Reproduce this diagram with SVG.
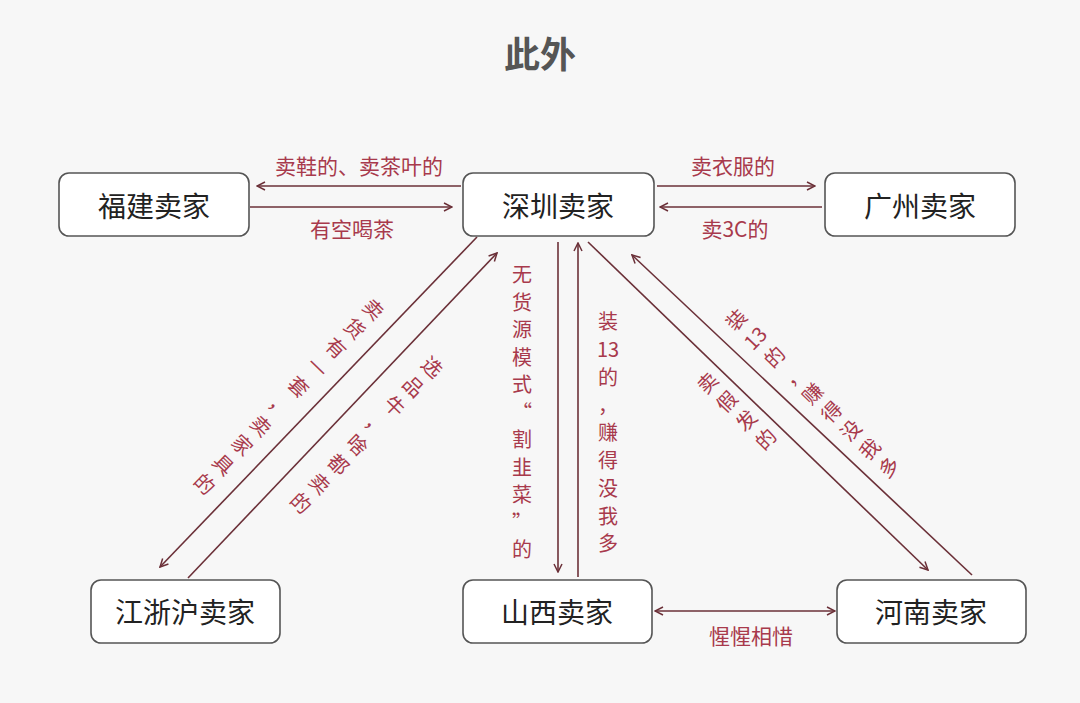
<svg xmlns="http://www.w3.org/2000/svg" width="1080" height="703" viewBox="0 0 1080 703">
<defs>
<style>
.node rect{fill:#ffffff;stroke:#555555;stroke-width:1.6}
.node text{font-family:"Noto Sans CJK SC","Noto Sans",sans-serif;font-size:28px;fill:#222222;text-anchor:middle;dominant-baseline:central}
.conn line{stroke:#6b3038;stroke-width:1.6;fill:none}
.lbl{font-family:"Noto Sans CJK SC","Noto Sans",sans-serif;font-size:21px;fill:#a83a4c;text-anchor:middle;dominant-baseline:central}
.vl{font-family:"Noto Sans CJK SC","Noto Sans",sans-serif;font-size:20px;fill:#a83a4c;text-anchor:middle;dominant-baseline:central}
.title{font-family:"Noto Sans CJK SC","Noto Sans",sans-serif;font-size:36px;font-weight:bold;fill:#555555;text-anchor:middle;dominant-baseline:central}
</style>
<marker id="ah" viewBox="0 0 10 10" refX="9" refY="5" markerWidth="10" markerHeight="10" markerUnits="userSpaceOnUse" orient="auto-start-reverse">
<path d="M1,1 L9,5 L1,9" fill="none" stroke="#6b3038" stroke-width="1.5"/>
</marker>
</defs>
<rect x="0" y="0" width="1080" height="703" fill="#f7f7f7"/>
<text class="title" x="540" y="52">此外</text>

<g id="connectors" class="conn">
<line x1="461" y1="186" x2="257" y2="186" marker-end="url(#ah)"/>
<line x1="250" y1="207" x2="452" y2="207" marker-end="url(#ah)"/>
<line x1="657" y1="186" x2="815" y2="186" marker-end="url(#ah)"/>
<line x1="822" y1="207" x2="660" y2="207" marker-end="url(#ah)"/>
<line x1="477" y1="237" x2="160" y2="567" marker-end="url(#ah)"/>
<line x1="188" y1="578" x2="497" y2="253" marker-end="url(#ah)"/>
<line x1="558" y1="242" x2="558" y2="572" marker-end="url(#ah)"/>
<line x1="578" y1="577" x2="578" y2="243" marker-end="url(#ah)"/>
<line x1="588" y1="242" x2="928" y2="570" marker-end="url(#ah)"/>
<line x1="972" y1="575" x2="632" y2="255" marker-end="url(#ah)"/>
<line x1="655" y1="611" x2="835" y2="611" marker-start="url(#ah)" marker-end="url(#ah)"/>
</g>

<g id="labels">
<text class="lbl" x="359" y="165">卖鞋的、卖茶叶的</text>
<text class="lbl" x="352" y="228">有空喝茶</text>
<text class="lbl" x="733" y="165">卖衣服的</text>
<text class="lbl" x="735" y="228">卖3C的</text>
<text class="lbl" x="751" y="635">惺惺相惜</text>
<text class="vl" transform="translate(290,395.5) rotate(44)"><tspan x="0" y="-121.5">卖</tspan><tspan x="0" y="-94.5">货</tspan><tspan x="0" y="-67.5">有</tspan><tspan x="0" y="-40.5">一</tspan><tspan x="0" y="-13.5">套</tspan><tspan x="0" y="13.5">，</tspan><tspan x="0" y="40.5">卖</tspan><tspan x="0" y="67.5">家</tspan><tspan x="0" y="94.5">具</tspan><tspan x="0" y="121.5">的</tspan></text>
<text class="vl" transform="translate(367.5,434) rotate(44)"><tspan x="0" y="-94.5">选</tspan><tspan x="0" y="-67.5">品</tspan><tspan x="0" y="-40.5">牛</tspan><tspan x="0" y="-13.5">，</tspan><tspan x="0" y="13.5">啥</tspan><tspan x="0" y="40.5">都</tspan><tspan x="0" y="67.5">卖</tspan><tspan x="0" y="94.5">的</tspan></text>
<text class="vl" transform="translate(735.5,410) rotate(-46)"><tspan x="0" y="-40.5">卖</tspan><tspan x="0" y="-13.5">假</tspan><tspan x="0" y="13.5">发</tspan><tspan x="0" y="40.5">的</tspan></text>
<text class="vl" transform="translate(811.5,392.5) rotate(-46)"><tspan x="0" y="-106">装</tspan><tspan x="0" y="-79.5">13</tspan><tspan x="0" y="-53">的</tspan><tspan x="0" y="-26.5">，</tspan><tspan x="0" y="0">赚</tspan><tspan x="0" y="26.5">得</tspan><tspan x="0" y="53">没</tspan><tspan x="0" y="79.5">我</tspan><tspan x="0" y="106">多</tspan></text>
<text class="vl"><tspan x="522" y="273">无</tspan><tspan x="522" y="300.5">货</tspan><tspan x="522" y="328">源</tspan><tspan x="522" y="355.5">模</tspan><tspan x="522" y="383">式</tspan><tspan x="522" y="410.5">“</tspan><tspan x="522" y="438">割</tspan><tspan x="522" y="465.5">韭</tspan><tspan x="522" y="493">菜</tspan><tspan x="522" y="520.5">”</tspan><tspan x="522" y="548">的</tspan></text>
<text class="vl"><tspan x="608" y="320">装</tspan><tspan x="608" y="348">13</tspan><tspan x="608" y="375.5">的</tspan><tspan x="608" y="403.5">，</tspan><tspan x="608" y="431">赚</tspan><tspan x="608" y="459">得</tspan><tspan x="608" y="486.5">没</tspan><tspan x="608" y="514.5">我</tspan><tspan x="608" y="542">多</tspan></text>
</g>

<g id="fujian" class="node"><rect x="59" y="173" width="190" height="63" rx="10"/><text x="154" y="205">福建卖家</text></g>
<g id="shenzhen" class="node"><rect x="463" y="173" width="191" height="63" rx="10"/><text x="558" y="205">深圳卖家</text></g>
<g id="guangzhou" class="node"><rect x="825" y="173" width="190" height="63" rx="10"/><text x="920" y="205">广州卖家</text></g>
<g id="jiangzhehu" class="node"><rect x="91" y="580" width="189" height="63" rx="10"/><text x="185" y="611">江浙沪卖家</text></g>
<g id="shanxi" class="node"><rect x="463" y="580" width="189" height="63" rx="10"/><text x="557" y="611">山西卖家</text></g>
<g id="henan" class="node"><rect x="837" y="580" width="189" height="63" rx="10"/><text x="931" y="611">河南卖家</text></g>
</svg>
